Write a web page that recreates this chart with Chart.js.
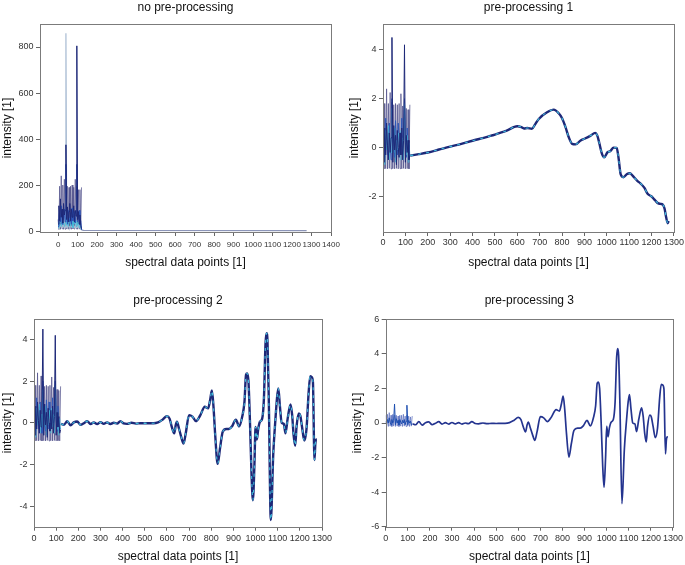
<!DOCTYPE html>
<html>
<head>
<meta charset="utf-8">
<script src="https://cdn.jsdelivr.net/npm/chart.js@4.4.1/dist/chart.umd.min.js"></script>
<style>
  html, body { margin: 0; padding: 0; background: #fff; }
  body { width: 685px; height: 565px; position: relative; overflow: hidden; }
  canvas { position: absolute; }
</style>
</head>
<body>
<canvas id="c1" width="345" height="275" style="left:0px;top:0px"></canvas>
<canvas id="c2" width="342" height="275" style="left:343px;top:0px"></canvas>
<canvas id="c3" width="336" height="280" style="left:0px;top:285px"></canvas>
<canvas id="c4" width="340" height="280" style="left:345px;top:285px"></canvas>
<script>
// spectral point positions of the noisy first region
const noiseX = [0, 4, 8, 12, 16, 20, 24, 28, 32, 36, 40, 44, 48, 52, 56, 60, 64, 68, 72, 76, 80, 84, 88, 92, 96, 100, 104, 108, 112, 116, 120];

// no pre-processing
const band1  = [50, 8, 195, 8, 240, 10, 200, 8, 225, 8, 230, 10, 195, 8, 190, 10, 195, 8, 200, 10, 190, 8, 225, 10, 195, 8, 180, 10, 180, 8, 190];
const dark1  = [30, 110, 45, 140, 60, 95, 35, 120, 70, 90, 375, 50, 105, 40, 85, 120, 45, 95, 60, 75, 110, 40, 90, 65, 805, 50, 85, 30, 70, 25, 10];
const blue1  = [20, 60, 90, 40, 110, 30, 70, 50, 95, 40, 290, 75, 30, 90, 50, 40, 80, 30, 100, 45, 60, 85, 35, 70, 290, 40, 60, 90, 30, 45, 5];
const cyan1  = [15, 40, 25, 60, 20, 50, 30, 45, 20, 35, 60, 25, 50, 20, 40, 55, 20, 35, 45, 15, 40, 30, 50, 20, 45, 25, 40, 15, 30, 20, 5];
const light1 = [10, 30, 15, 25, 20, 15, 30, 20, 25, 15, 860, 20, 15, 25, 20, 15, 25, 20, 15, 20, 25, 15, 20, 15, 30, 20, 15, 20, 15, 10, 5];
const flatX  = [120, 130, 1275];
const flat1  = [5, 3, 2];

// pre-processing 1 and 2 share the same noisy start
const bandA = [1.8, -0.87, 1.8, -0.86, 2.4, -0.87, 1.8, -0.85, 2.25, -0.87, 1.85, -0.86, 1.75, -0.87, 1.8, -0.85, 1.75, -0.87, 1.8, -0.86, 2.2, -0.87, 1.7, -0.85, 1.8, -0.87, 1.6, -0.86, 1.55, -0.87, 1.75];
const darkA = [0.2, -0.6, 0.8, -0.3, 1.0, 0.1, -0.5, 0.6, -0.2, 0.4, 4.5, -0.6, 0.9, -0.1, 0.5, -0.7, 0.7, 0.0, -0.4, 0.6, -0.3, 0.8, -0.5, 0.3, 4.2, -0.6, 0.5, -0.2, 0.3, -0.5, -0.33];
const blueA = [0.5, 0.0, -0.4, 1.2, 0.3, -0.3, 0.6, 1.0, 0.1, -0.5, 2.0, 0.2, 0.5, -0.4, 1.1, 0.2, -0.3, 1.0, 0.4, -0.2, 0.3, 1.2, 0.0, 0.6, 2.0, 0.2, -0.4, 0.8, 0.1, -0.2, -0.3];
const cyanA = [-0.3, 0.5, -0.7, 0.7, -0.1, 0.3, 0.9, -0.5, 0.4, -0.2, 1.6, 0.6, -0.2, 0.8, -0.6, 0.3, -0.1, 0.6, 0.2, -0.5, 0.7, -0.2, 0.4, -0.5, 1.8, 0.4, -0.3, 0.5, -0.6, 0.2, -0.3];

// pre-processing 1 smooth part
const p1X = [122, 160, 200, 250, 300, 350, 400, 450, 500, 550, 600, 615, 630, 645, 665, 681, 696, 733, 763, 785, 800, 815, 830, 845, 860, 883, 900, 928, 948, 957, 966, 978, 988, 1003, 1015, 1030, 1044, 1052, 1062, 1074, 1090, 1103, 1115, 1135, 1152, 1168, 1182, 1200, 1215, 1228, 1240, 1250, 1258, 1265, 1272, 1276];
const p1Y = [-0.33, -0.27, -0.2, -0.08, 0.04, 0.15, 0.28, 0.4, 0.53, 0.68, 0.87, 0.85, 0.78, 0.8, 0.77, 0.97, 1.17, 1.44, 1.55, 1.4, 1.2, 0.85, 0.42, 0.15, 0.13, 0.29, 0.36, 0.49, 0.6, 0.5, 0.2, -0.25, -0.4, -0.19, -0.15, 0.0, -0.01, -0.4, -1.1, -1.21, -1.08, -1.05, -1.15, -1.35, -1.48, -1.65, -1.89, -2.0, -2.15, -2.27, -2.3, -2.33, -2.5, -2.85, -3.09, -3.0];

// pre-processing 2 and 3 smooth part
const p23X = [122, 135, 150, 165, 180, 195, 210, 225, 240, 255, 270, 285, 300, 315, 330, 345, 360, 375, 390, 405, 420, 440, 460, 480, 500, 520, 540, 560, 580, 600, 612, 622, 633, 640, 645, 655, 665, 675, 685, 700, 715, 731, 750, 771, 786, 795, 803, 810, 818, 829, 840, 852, 868, 880, 895, 911, 926, 940, 950, 957, 962, 968, 975, 982, 988, 995, 1000, 1006, 1012, 1020, 1030, 1038, 1045, 1050, 1054, 1060, 1069, 1080, 1090, 1097, 1103, 1110, 1118, 1128, 1135, 1145, 1158, 1165, 1172, 1179, 1185, 1195, 1202, 1210, 1220, 1230, 1240, 1247, 1253, 1259, 1266, 1270, 1273, 1277];
const p23Y = [-0.05, -0.1, 0.08, -0.12, 0.02, 0.06, -0.1, -0.02, 0.08, -0.06, 0.02, -0.06, 0.03, -0.05, 0.02, -0.06, 0.0, -0.04, 0.08, -0.03, -0.05, 0.0, -0.04, -0.02, -0.03, -0.02, -0.02, 0.02, 0.15, 0.32, 0.2, -0.2, -0.51, -0.1, 0.05, -0.3, -0.7, -1.0, -0.5, 0.37, 0.3, 0.08, 0.35, 0.77, 0.69, 1.1, 1.55, 0.8, -0.6, -1.97, -1.2, -0.43, -0.3, -0.3, -0.15, 0.15, -0.17, 0.3, 1.0, 2.3, 2.37, 2.0, 0.0, -2.5, -3.72, -2.0, -0.2, -0.8, -0.3, 0.05, 0.2, 1.2, 3.8, 4.3, 3.9, 1.0, -4.67, -1.5, 0.2, 1.2, 1.65, 0.8, 0.0, -0.05, -0.5, 0.2, 0.88, 0.4, -0.6, -1.1, -0.2, 0.45, 0.35, -0.2, -0.85, -0.3, 1.5, 2.24, 2.2, 1.97, -1.79, -1.0, -0.81, -0.8];

// pre-processing 3 noisy start
const band4 = [0.45, -0.18, 0.5, -0.2, 0.6, -0.18, 0.45, -0.2, 0.5, -0.18, 0.45, -0.2, 0.45, -0.18, 0.4, -0.2, 0.45, -0.18, 0.45, -0.2, 0.5, -0.18, 0.4, -0.2, 0.45, -0.18, 0.4, -0.2, 0.35, -0.18, 0.4];
const dark4 = [0.1, -0.1, 0.2, 0.0, 0.3, 0.05, -0.1, 0.2, 0.0, 0.15, 1.1, -0.1, 0.25, 0.0, 0.15, -0.12, 0.2, 0.05, -0.05, 0.15, 0.0, 0.2, -0.1, 0.1, 1.03, -0.1, 0.15, 0.0, 0.1, -0.1, -0.05];

// tick labels
const xTicks1 = [0, 100, 200, 300, 400, 500, 600, 700, 800, 900, 1000, 1100, 1200, 1300, 1400];
const xTicks  = [0, 100, 200, 300, 400, 500, 600, 700, 800, 900, 1000, 1100, 1200, 1300];
const yTicks1 = [0, 200, 400, 600, 800];
const yTicks2 = [-2, 0, 2, 4];
const yTicks3 = [-4, -2, 0, 2, 4];
const yTicks4 = [-6, -4, -2, 0, 2, 4, 6];

Chart.defaults.font.family = 'Arial, "Liberation Sans", sans-serif';
Chart.defaults.color = '#333';

const pts = (xs, ys) => xs.map((x, i) => ({x: x, y: ys[i]}));

function line(data, color, width, extra) {
  return Object.assign({
    data: data, borderColor: color, borderWidth: width,
    pointRadius: 0, fill: false, tension: 0
  }, extra || {});
}
function smooth(data, color, width, extra) {
  return line(data, color, width, Object.assign({cubicInterpolationMode: 'monotone'}, extra || {}));
}

const frame = {
  id: 'frame',
  afterDraw(chart) {
    const a = chart.chartArea, c = chart.ctx;
    const x0 = Math.round(a.left) + 0.5, y0 = Math.round(a.top) + 0.5;
    const x1 = Math.round(a.right) + 0.5, y1 = Math.round(a.bottom) + 0.5;
    c.save();
    c.strokeStyle = '#7b7b7b';
    c.lineWidth = 1;
    c.strokeRect(x0, y0, x1 - x0, y1 - y0);
    c.restore();
  }
};

function makeChart(id, o) {
  return new Chart(document.getElementById(id), {
    type: 'line',
    data: { datasets: o.datasets },
    plugins: [frame],
    options: {
      responsive: false,
      animation: false,
      events: [],
      layout: { padding: { right: o.padRight, left: 0, top: 0, bottom: 0 } },
      plugins: {
        legend: { display: false },
        tooltip: { enabled: false },
        title: {
          display: true, text: o.title, fullSize: false,
          color: '#111', font: { size: 12, weight: 'normal' },
          padding: { top: o.titleTop, bottom: o.titleBottom }
        }
      },
      scales: {
        x: {
          type: 'linear', min: o.xMin, max: o.xMax,
          afterFit: s => { s.height = o.xHeight; },
          afterBuildTicks: s => { s.ticks = o.xTicks.map(v => ({value: v})); },
          border: { display: false },
          grid: { drawOnChartArea: false, drawTicks: true, tickLength: 4, color: '#666' },
          ticks: {
            autoSkip: false, maxRotation: 0, minRotation: 0,
            padding: o.xTickPad, font: { size: o.xFont }, color: '#333',
            callback: v => String(v)
          },
          title: {
            display: true, text: 'spectral data points [1]', color: '#111',
            font: { size: 12 }, padding: { top: 0, bottom: o.xTitleBottom }
          }
        },
        y: {
          type: 'linear', min: o.yMin, max: o.yMax,
          afterFit: s => { s.width = o.yWidth; },
          afterBuildTicks: s => { s.ticks = o.yTicks.map(v => ({value: v})); },
          border: { display: false },
          grid: { drawOnChartArea: false, drawTicks: true, tickLength: 4, color: '#666' },
          ticks: {
            autoSkip: false, padding: 2.5, font: { size: 9 }, color: '#333',
            callback: v => String(v)
          },
          title: {
            display: true, text: 'intensity [1]', color: '#111',
            font: { size: 12 }, padding: { top: o.yTitleTop, bottom: 0 }
          }
        }
      }
    }
  });
}

const NAVY = '#1d2878', BLUE = '#2a55b8', CYAN = '#3fbfdc', BANDC = 'rgba(75,75,135,0.7)';

makeChart('c1', {
  title: 'no pre-processing', padRight: 14, titleTop: 0, titleBottom: 9.6,
  xMin: -93, xMax: 1400, xTicks: xTicks1, xHeight: 43, xTickPad: 3.7, xFont: 8, xTitleBottom: 4.8,
  yMin: -4, yMax: 900, yTicks: yTicks1, yWidth: 40, yTitleTop: 0,
  datasets: [
    line(pts(noiseX, dark1), NAVY, 1),
    line(pts(noiseX, blue1), BLUE, 1),
    line(pts(noiseX, cyan1), CYAN, 0.7),
    line(pts(noiseX, light1), '#a9bcd3', 1.2),
    line(pts(noiseX, band1), BANDC, 1),
    line(pts(flatX, flat1), '#8c95b8', 1.2)
  ]
});

makeChart('c2', {
  title: 'pre-processing 1', padRight: 11, titleTop: 0, titleBottom: 9.6,
  xMin: 0, xMax: 1300, xTicks: xTicks, xHeight: 43, xTickPad: 1, xFont: 9, xTitleBottom: 5.3,
  yMin: -3.45, yMax: 5.05, yTicks: yTicks2, yWidth: 40, yTitleTop: 4.8,
  datasets: [
    smooth(pts(p1X, p1Y), CYAN, 1.1, { borderDash: [3, 5] }),
    smooth(pts(p1X, p1Y), NAVY, 2.4),
    line(pts(noiseX, darkA), NAVY, 1),
    line(pts(noiseX, cyanA), CYAN, 0.6),
    line(pts(noiseX, blueA), BLUE, 0.9),
    line(pts(noiseX, bandA), BANDC, 1)
  ]
});

makeChart('c3', {
  title: 'pre-processing 2', padRight: 14, titleTop: 8.3, titleBottom: 11.6,
  xMin: 0, xMax: 1300, xTicks: xTicks, xHeight: 38.3, xTickPad: 2, xFont: 9, xTitleBottom: 1.1,
  yMin: -4.99, yMax: 4.97, yTicks: yTicks3, yWidth: 34, yTitleTop: 0,
  datasets: [
    smooth(pts(p23X, p23Y), CYAN, 1.1, { borderDash: [3, 5] }),
    smooth(pts(p23X, p23Y), NAVY, 2.4),
    line(pts(noiseX, darkA), NAVY, 1),
    line(pts(noiseX, cyanA), CYAN, 0.6),
    line(pts(noiseX, blueA), BLUE, 0.9),
    line(pts(noiseX, bandA), BANDC, 1)
  ]
});

makeChart('c4', {
  title: 'pre-processing 3', padRight: 10.7, titleTop: 8.3, titleBottom: 11.6,
  xMin: 0, xMax: 1300, xTicks: xTicks, xHeight: 38.3, xTickPad: 2, xFont: 9, xTitleBottom: 1.1,
  yMin: -6, yMax: 6, yTicks: yTicks4, yWidth: 40.7, yTitleTop: 5.1,
  datasets: [
    smooth(pts(p23X, p23Y), '#24348f', 1.7),
    line(pts(noiseX, dark4), '#1e4fb0', 1),
    line(pts(noiseX, band4), 'rgba(90,110,190,0.7)', 1)
  ]
});
</script>
</body>
</html>
